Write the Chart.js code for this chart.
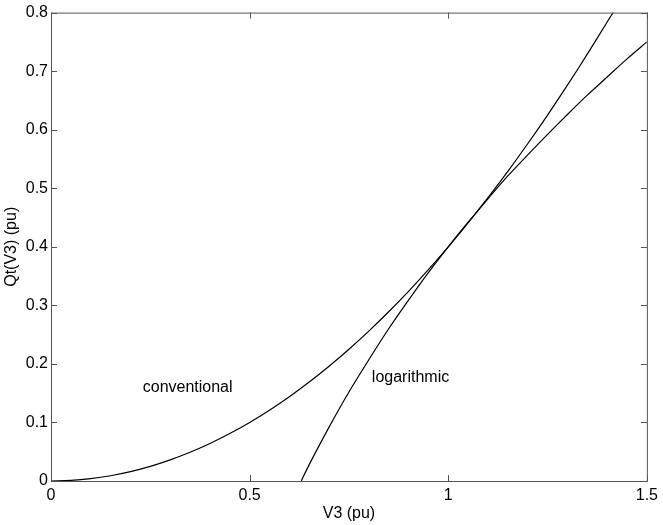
<!DOCTYPE html>
<html>
<head>
<meta charset="utf-8">
<script src="https://cdn.jsdelivr.net/npm/chart.js@4/dist/chart.umd.min.js"></script>
<style>
  html, body { margin: 0; padding: 0; background: #fff; }
  #wrap { width: 663px; height: 525px; }
</style>
</head>
<body>
<div id="wrap"><canvas id="qtChart" width="663" height="525"></canvas></div>
<script>
// conventional characteristic Qt(V3)
const convV = [0, 0.05, 0.1, 0.15, 0.2, 0.25, 0.3, 0.35, 0.4, 0.45, 0.5, 0.55, 0.6, 0.65, 0.7,
  0.75, 0.8, 0.85, 0.9, 0.95, 1.0, 1.05, 1.1, 1.15, 1.2, 1.25, 1.3, 1.35, 1.4, 1.415];
const convQ = [0, 0.001, 0.004, 0.009, 0.016, 0.025, 0.036, 0.049, 0.064, 0.081, 0.1, 0.121, 0.144, 0.169, 0.196,
  0.225, 0.256, 0.289, 0.324, 0.361, 0.4, 0.441, 0.484, 0.529, 0.576, 0.625, 0.676, 0.729, 0.784, 0.8];

// logarithmic characteristic Qt(V3)
const logV = [0.63, 0.65, 0.7, 0.75, 0.8, 0.85, 0.9, 0.95, 1.0, 1.05, 1.1, 1.15, 1.2, 1.25, 1.3, 1.35, 1.4, 1.45, 1.5];
const logQ = [0, 0.028, 0.092, 0.152, 0.207, 0.26, 0.309, 0.356, 0.4, 0.442, 0.482, 0.521, 0.557, 0.592, 0.626, 0.659, 0.69, 0.721, 0.75];

const xTicks = [0, 0.5, 1, 1.5];
const yTicks = [0, 0.1, 0.2, 0.3, 0.4, 0.5, 0.6, 0.7, 0.8];

// curve labels placed in data units
const curveLabels = [
  { text: 'conventional', x: 0.344, y: 0.16 },
  { text: 'logarithmic', x: 0.905, y: 0.177 }
];

const FONT = 'Liberation Sans, Arial, Helvetica, sans-serif';
const FONT_SIZE = 16;

function toPoints(xs, ys) {
  return xs.map((x, i) => ({ x: x, y: ys[i] }));
}

// box around the plot with inward ticks on every side, plus curve labels
const framePlugin = {
  id: 'frame',
  afterDatasetsDraw(chart) {
    const { ctx, chartArea: a, scales } = chart;
    const len = 6;
    ctx.save();
    ctx.strokeStyle = '#555';
    ctx.lineWidth = 1;
    ctx.strokeRect(a.left + 0.5, a.top + 0.5, a.right - a.left, a.bottom - a.top);
    ctx.beginPath();
    xTicks.forEach(v => {
      const px = Math.round(scales.x.getPixelForValue(v)) + 0.5;
      ctx.moveTo(px, a.bottom); ctx.lineTo(px, a.bottom - len);
      ctx.moveTo(px, a.top); ctx.lineTo(px, a.top + len);
    });
    yTicks.forEach(v => {
      const py = Math.round(scales.y.getPixelForValue(v)) + 0.5;
      ctx.moveTo(a.left, py); ctx.lineTo(a.left + len, py);
      ctx.moveTo(a.right, py); ctx.lineTo(a.right - len, py);
    });
    ctx.stroke();

    ctx.fillStyle = '#000';
    ctx.font = FONT_SIZE + 'px ' + FONT;
    ctx.textAlign = 'center';
    ctx.textBaseline = 'middle';
    curveLabels.forEach(l => {
      ctx.fillText(l.text, scales.x.getPixelForValue(l.x), scales.y.getPixelForValue(l.y));
    });
    ctx.restore();
  }
};

const lineStyle = {
  borderColor: '#000',
  borderWidth: 1.2,
  pointRadius: 0,
  showLine: true,
  fill: false,
  tension: 0.3
};

const tickFont = { family: FONT, size: FONT_SIZE };

new Chart(document.getElementById('qtChart'), {
  type: 'scatter',
  data: {
    datasets: [
      Object.assign({ label: 'conventional', data: toPoints(convV, convQ) }, lineStyle),
      Object.assign({ label: 'logarithmic', data: toPoints(logV, logQ) }, lineStyle)
    ]
  },
  options: {
    responsive: false,
    animation: false,
    clip: { left: 0, top: 0, right: 0, bottom: 0 },
    layout: { padding: { left: 0, top: 11, right: 12, bottom: 0 } },
    plugins: {
      legend: { display: false },
      tooltip: { enabled: false }
    },
    scales: {
      x: {
        type: 'linear',
        min: 0,
        max: 1.5,
        afterFit: s => { s.height = 44; },
        afterBuildTicks: s => { s.ticks = xTicks.map(v => ({ value: v })); },
        grid: { display: false, drawTicks: false },
        border: { display: false },
        ticks: { color: '#000', font: tickFont, padding: 5, maxRotation: 0, callback: v => String(v) },
        title: { display: true, text: 'V3 (pu)', color: '#000', font: tickFont, padding: { top: 0, bottom: 2 } }
      },
      y: {
        type: 'linear',
        min: 0,
        max: 0.8,
        afterFit: s => { s.width = 51; },
        afterBuildTicks: s => { s.ticks = yTicks.map(v => ({ value: v })); },
        grid: { display: false, drawTicks: false },
        border: { display: false },
        ticks: { color: '#000', font: tickFont, padding: 3, callback: v => String(v) },
        title: { display: true, text: 'Qt(V3) (pu)', color: '#000', font: tickFont, padding: { top: 2, bottom: 0 } }
      }
    }
  },
  plugins: [framePlugin]
});
</script>
</body>
</html>
